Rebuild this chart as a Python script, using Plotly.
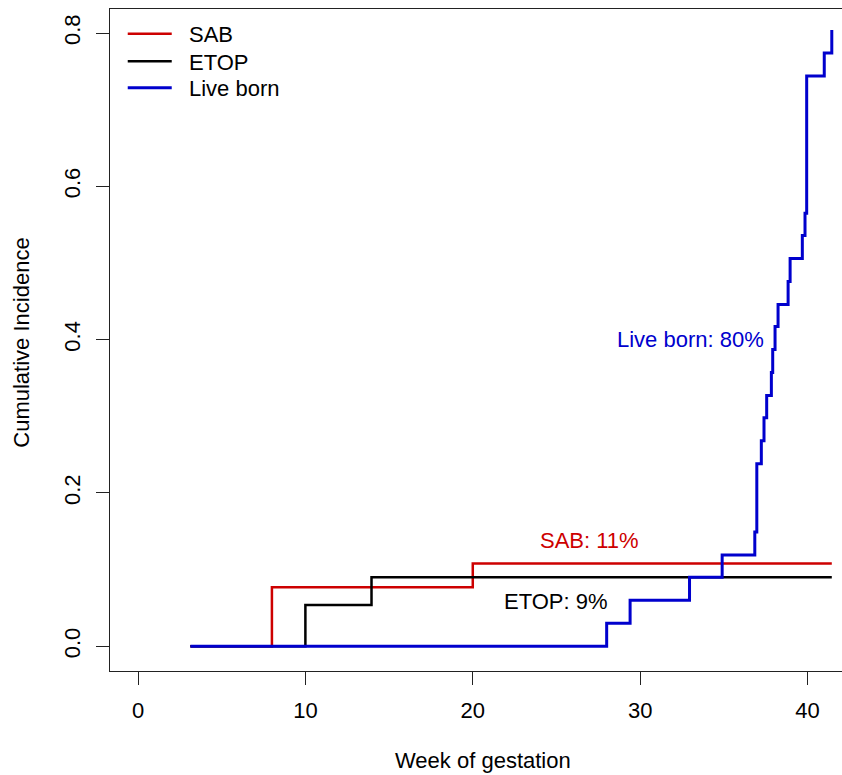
import plotly.graph_objects as go

# ---- data ----
sab_week = [3.13, 8.0, 20.0, 41.45]
sab_ci = [0.0, 0.077, 0.108, 0.108]

etop_week = [3.13, 10.0, 13.95, 41.45]
etop_ci = [0.0, 0.054, 0.090, 0.090]

live_week = [3.13, 28.0, 29.4, 32.95, 34.9, 36.85, 36.97, 37.24, 37.4, 37.56,
             37.84, 37.92, 38.06, 38.24, 38.84, 38.96, 39.69, 39.85, 39.95,
             41.0, 41.45]
live_ci = [0.0, 0.030, 0.060, 0.090, 0.119, 0.149, 0.238, 0.268, 0.298, 0.327,
           0.357, 0.387, 0.417, 0.446, 0.476, 0.506, 0.536, 0.565, 0.744,
           0.774, 0.804]

x_ticks = [0, 10, 20, 30, 40]
y_ticks = [0.0, 0.2, 0.4, 0.6, 0.8]
y_tick_labels = ["0.0", "0.2", "0.4", "0.6", "0.8"]

series_names = ["SAB", "ETOP", "Live born"]

labels = [
    {"text": "Live born: 80%", "x": 33.0, "y": 0.40, "color": "#0000CD"},
    {"text": "SAB: 11%", "x": 27.0, "y": 0.1375, "color": "#CD0000"},
    {"text": "ETOP: 9%", "x": 25.0, "y": 0.058, "color": "#000000"},
]

FONT = "Liberation Sans, Arial, sans-serif"
RED = "#CD0000"
BLUE = "#0000CD"
NB = "\u00a0\u00a0"

fig = go.Figure()
fig.add_trace(go.Scatter(x=sab_week, y=sab_ci, mode="lines",
                         name=NB + series_names[0], legend="legend",
                         line=dict(color=RED, width=2.5, shape="hv")))
fig.add_trace(go.Scatter(x=etop_week, y=etop_ci, mode="lines",
                         name=NB + series_names[1], legend="legend2",
                         line=dict(color="#000000", width=2.5, shape="hv")))
fig.add_trace(go.Scatter(x=live_week, y=live_ci, mode="lines",
                         name=NB + series_names[2], legend="legend3",
                         line=dict(color=BLUE, width=3, shape="hv")))

for lb in labels:
    fig.add_annotation(x=lb["x"], y=lb["y"], text=lb["text"], showarrow=False,
                       font=dict(family=FONT, size=22, color=lb["color"]),
                       xanchor="center", yanchor="middle")

# axis titles
fig.add_annotation(x=20.59, y=0, xref="x", yref="paper", yshift=-89,
                   text="Week of gestation", showarrow=False,
                   xanchor="center", yanchor="middle",
                   font=dict(family=FONT, size=22, color="#000000"))
fig.add_annotation(x=0, y=0.396, xref="paper", yref="y", xshift=-88,
                   text="Cumulative Incidence", showarrow=False, textangle=-90,
                   xanchor="center", yanchor="middle",
                   font=dict(family=FONT, size=22, color="#000000"))

axis_common = dict(showgrid=False, zeroline=False, showline=True,
                   linecolor="#222222", linewidth=1.3, ticks="outside",
                   ticklen=13, tickwidth=1.3, tickcolor="#222222",
                   tickfont=dict(family=FONT, size=22, color="#000000"))

leg_common = dict(xanchor="left", yanchor="middle", bgcolor="rgba(0,0,0,0)",
                  font=dict(family=FONT, size=22, color="#000000"),
                  itemwidth=44, x=0.0174)

fig.update_layout(
    width=842, height=775,
    margin=dict(l=110, r=0, t=9, b=104),
    paper_bgcolor="white", plot_bgcolor="white",
    font=dict(family=FONT, size=22, color="#000000"),
    showlegend=True,
    legend=dict(y=0.9622, **leg_common),
    legend2=dict(y=0.9208, **leg_common),
    legend3=dict(y=0.8806, **leg_common),
    xaxis=dict(range=[-1.674, 42.06], tickvals=x_ticks, mirror=True,
               ticklabelstandoff=6, **axis_common),
    yaxis=dict(range=[-0.0322, 0.8313], tickvals=y_ticks,
               ticktext=y_tick_labels, tickangle=-90, ticklabelstandoff=7,
               **axis_common),
)

fig.write_html("out.html")
